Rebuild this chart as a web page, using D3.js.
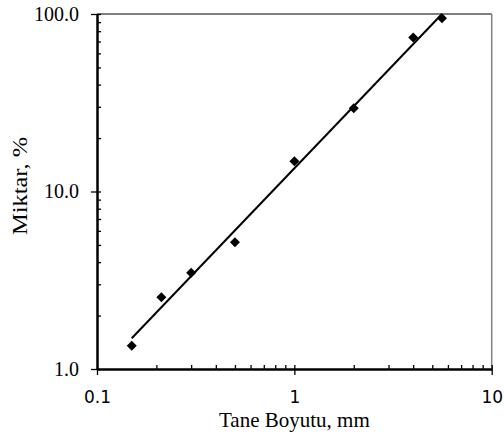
<!DOCTYPE html>
<html>
<head>
<meta charset="utf-8">
<script src="https://cdn.jsdelivr.net/npm/d3@7"></script>
<style>
  body { margin: 0; background: #fff; }
  .ytick text { font-family: "Liberation Serif", serif; font-size: 20px; }
  .xtick text { font-family: "DejaVu Sans", sans-serif; font-size: 17px; }
  .title { font-family: "Liberation Serif", serif; font-size: 21px; }
</style>
</head>
<body>
<svg id="chart" width="504" height="434"></svg>
<script>
// sieve sizes (mm) and cumulative passing (%)
var sizes = [0.15, 0.212, 0.3, 0.5, 1, 2, 4, 5.6];
var passing = [1.35, 2.54, 3.49, 5.17, 14.8, 29.4, 73.7, 94.6];
// fitted trend line end points
var fitX = [0.15, 5.6];
var fitY = [1.49, 100];

var xTicks = [0.1, 1, 10];
var xTickLabels = ["0.1", "1", "10"];
var yTicks = [1, 10, 100];
var yTickLabels = ["1.0", "10.0", "100.0"];

var margin = { top: 14, right: 12.3, bottom: 65, left: 97 };
var width = 504 - margin.left - margin.right;
var height = 434 - margin.top - margin.bottom;

var svg = d3.select("#chart")
  .append("g")
  .attr("transform", `translate(${margin.left}, ${margin.top})`);

var xScale = d3.scaleLog().domain([0.1, 10]).range([0, width]);
var yScale = d3.scaleLog().domain([1, 100]).range([height, 0]);

function minors(lo, hi) {
  var out = [];
  for (var d = lo; d < hi; d *= 10) {
    for (var k = 2; k <= 9; k++) out.push(d * k);
  }
  return out;
}

// plot frame: top black, right gray
svg.append("line")
  .attr("x1", 0).attr("x2", width).attr("y1", 0).attr("y2", 0)
  .style("stroke", "#000").style("stroke-width", 1);
svg.append("line")
  .attr("x1", width).attr("x2", width).attr("y1", 0).attr("y2", height)
  .style("stroke", "#808080").style("stroke-width", 1.5);

// x axis: inner ticks (minor + major) then outer major ticks with labels
svg.append("g")
  .attr("transform", `translate(0, ${height})`)
  .call(d3.axisBottom(xScale).tickValues(minors(0.1, 10).concat(xTicks)).tickSize(-4).tickFormat(""))
  .call(g => g.select(".domain").remove())
  .selectAll("line").style("stroke-width", 1.3);
var xAxis = svg.append("g")
  .attr("class", "xtick")
  .attr("transform", `translate(0, ${height})`)
  .call(d3.axisBottom(xScale).tickValues(xTicks).tickSize(6).tickSizeOuter(0).tickPadding(16)
    .tickFormat((d, i) => xTickLabels[i]));
xAxis.select(".domain").style("stroke-width", 2.5);
xAxis.selectAll("line").style("stroke-width", 1.3);
xAxis.selectAll("text").style("fill", "#000");

// y axis
svg.append("g")
  .call(d3.axisLeft(yScale).tickValues(minors(1, 100).concat(yTicks)).tickSize(-4).tickFormat(""))
  .call(g => g.select(".domain").remove())
  .selectAll("line").style("stroke-width", 1.3);
var yAxis = svg.append("g")
  .attr("class", "ytick")
  .call(d3.axisLeft(yScale).tickValues(yTicks).tickSize(6).tickSizeOuter(0).tickPadding(12)
    .tickFormat((d, i) => yTickLabels[i]));
yAxis.select(".domain").style("stroke-width", 2.5);
yAxis.selectAll("line").style("stroke-width", 1.3);
yAxis.selectAll("text").style("fill", "#000");

// fit line
var line = d3.line()
  .x(d => xScale(d[0]))
  .y(d => yScale(d[1]));
svg.append("path")
  .datum(d3.zip(fitX, fitY))
  .attr("d", line)
  .style("stroke", "#000")
  .style("stroke-width", 2)
  .style("fill", "none");

// markers
svg.selectAll(".pt")
  .data(d3.zip(sizes, passing))
  .enter()
  .append("path")
  .attr("class", "pt")
  .attr("d", d3.symbol().type(d3.symbolSquare).size(50))
  .attr("transform", d => `translate(${xScale(d[0])}, ${yScale(d[1])}) rotate(45)`)
  .style("fill", "#000");

// titles
d3.select("#chart").append("text")
  .attr("class", "title")
  .attr("x", margin.left + width / 2)
  .attr("y", 427)
  .attr("text-anchor", "middle")
  .text("Tane Boyutu, mm");
d3.select("#chart").append("text")
  .attr("class", "title")
  .attr("transform", "translate(27, 186) rotate(-90)")
  .attr("text-anchor", "middle")
  .style("font-size", "22px")
  .attr("textLength", 98)
  .attr("lengthAdjust", "spacingAndGlyphs")
  .text("Miktar, %");
</script>
</body>
</html>
